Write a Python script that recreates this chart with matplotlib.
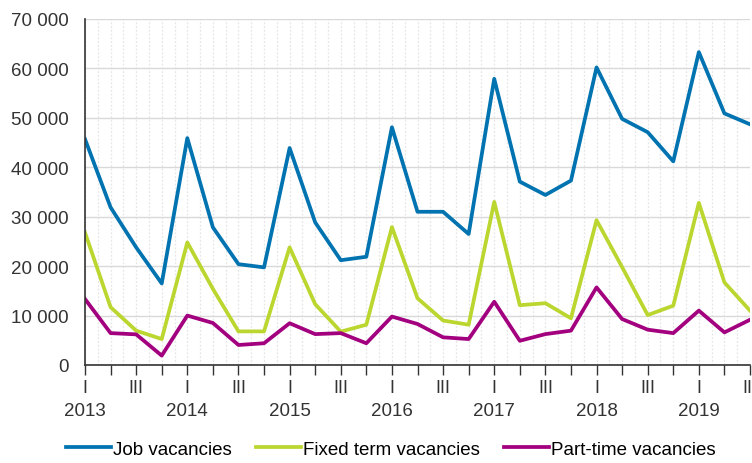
import matplotlib
matplotlib.use("Agg")
import numpy as np
import matplotlib.pyplot as plt
from matplotlib.transforms import blended_transform_factory

years = ["2013", "2014", "2015", "2016", "2017", "2018", "2019"]
quarter_labels = ["I", "", "III", ""]

job_vacancies = [45700, 31900, 23800, 16500,
                 45900, 27850, 20400, 19750,
                 43900, 28850, 21200, 21900,
                 48100, 31000, 31000, 26500,
                 57900, 37100, 34400, 37300,
                 60200, 49800, 47100, 41200,
                 63300, 50900, 48700]
fixed_term = [26800, 11700, 6950, 5250,
              24800, 15400, 6800, 6800,
              23800, 12300, 6750, 8150,
              27900, 13500, 9000, 8150,
              33000, 12100, 12500, 9450,
              29300, 19800, 10100, 12000,
              32800, 16700, 11000]
part_time = [13350, 6450, 6200, 1900,
             10000, 8500, 4050, 4400,
             8450, 6250, 6450, 4400,
             9800, 8300, 5600, 5250,
             12800, 4900, 6250, 6950,
             15700, 9300, 7150, 6450,
             11000, 6600, 9150]

x = np.arange(len(job_vacancies))

plt.rcParams['font.family'] = ['Liberation Sans', 'DejaVu Sans']
fig = plt.figure(figsize=(7.52, 4.64), dpi=100)
ax = fig.add_axes([85 / 752, 1 - 366 / 464, (750 - 85) / 752, (366 - 20) / 464])

lw = 2.7
ax.plot(x, job_vacancies, color="#0073b0", lw=lw, label="Job vacancies")
ax.plot(x, fixed_term, color="#bcd630", lw=lw, label="Fixed term vacancies")
ax.plot(x, part_time, color="#a3007f", lw=lw, label="Part-time vacancies")

ax.set_xlim(0, len(x) - 1)
ax.set_ylim(0, 70000)
ax.set_yticks(range(0, 70001, 10000))
ax.set_yticklabels([f"{v:,}".replace(",", " ") for v in range(0, 70001, 10000)], fontsize=13.5, color="#333333")
ax.tick_params(axis="y", length=0, pad=12)

ax.set_xticks(x)
ax.set_xticklabels([quarter_labels[i % 4] for i in x], fontsize=13, color="#333333")
ax.tick_params(axis="x", length=7, width=1, color="#333333", pad=3)
ax.set_xticks(np.arange(0, len(x) - 1 + 0.01, 0.5), minor=True)
ax.tick_params(axis="x", which="minor", length=0)

ax.grid(axis="y", color="#d9d9d9", lw=1, ls="-")
ax.grid(axis="x", which="both", color="#e6e6e6", lw=0.9, ls=(0, (1.5, 1.5)))
ax.set_axisbelow(True)

for s in ["top", "right"]:
    ax.spines[s].set_visible(False)
ax.spines["left"].set_color("#333333")
ax.spines["bottom"].set_color("#333333")
ax.spines["left"].set_linewidth(1.2)
ax.spines["bottom"].set_linewidth(1.2)

trans = blended_transform_factory(ax.transData, fig.transFigure)
for i, yr in enumerate(years):
    ax.text(i * 4, 1 - 412 / 464, yr, transform=trans, ha="center", va="center",
            fontsize=13.5, color="#333333")

fig.legend(loc="center", bbox_to_anchor=(0.52, 1 - 450 / 464), ncol=3, frameon=False,
           fontsize=13.5, handlelength=2.4, handletextpad=0.1, columnspacing=1.3)

fig.savefig("out.png", dpi=100)
